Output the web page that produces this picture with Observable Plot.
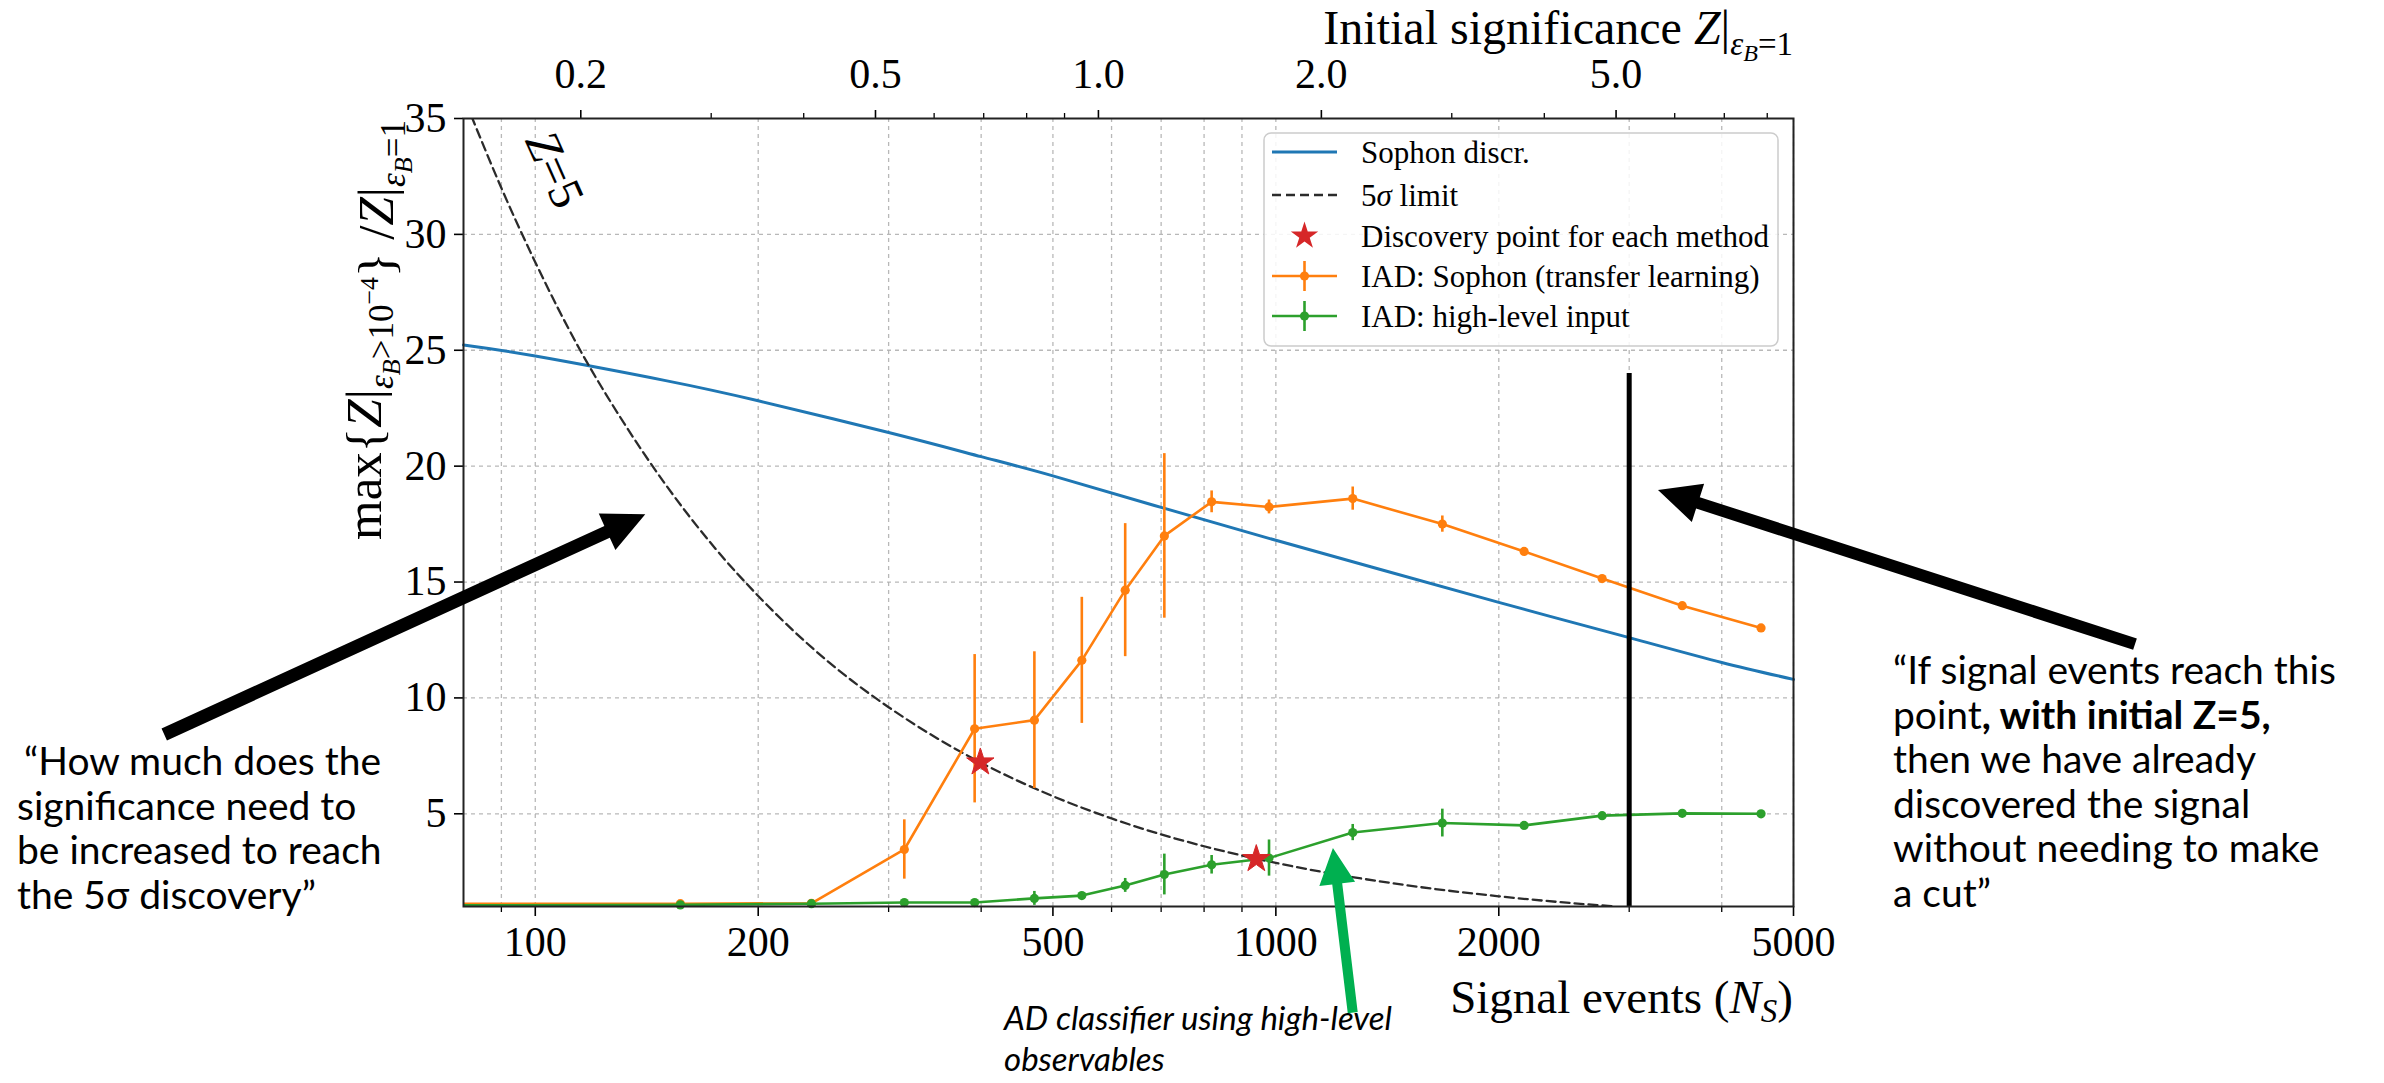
<!DOCTYPE html>
<html>
<head>
<meta charset="utf-8">
<script src="https://cdn.jsdelivr.net/npm/d3@7"></script>
<script src="https://cdn.jsdelivr.net/npm/@observablehq/plot@0.6"></script>
<style>
  html, body { margin: 0; padding: 0; background: #fff; }
  #chart { position: relative; width: 2384px; height: 1083px; overflow: hidden; }
</style>
</head>
<body>
<div id="chart"></div>
<script>
// ---------------- data ----------------
// Sophon discriminant curve
const sophonN = [80, 100, 150, 200, 300, 400, 500, 700, 1000, 1400, 2000, 3000, 4000, 5000];
const sophonZ = [25.23, 24.75, 23.69, 22.82, 21.45, 20.41, 19.58, 18.22, 16.8, 15.5, 14.12, 12.6, 11.53, 10.8];

// 5 sigma limit (dashed)
const limitN = [82, 90, 100, 115, 130, 150, 175, 200, 250, 300, 350, 400, 500, 600, 700, 800, 1000, 1200, 1500, 2000, 2500, 2880];
const limitZ = [35.1, 32.0, 28.8, 25.0, 22.15, 19.2, 16.45, 14.4, 11.5, 9.6, 8.23, 7.2, 5.76, 4.8, 4.11, 3.6, 2.88, 2.4, 1.92, 1.44, 1.15, 1.0];

// IAD runs (shared signal-event grid)
const iadN = [79, 157, 236, 315, 392, 472, 547, 626, 707, 819, 979, 1270, 1678, 2164, 2758, 3538, 4520];
const sophonTLZ   = [1.12, 1.12, 1.14, 3.46, 8.67, 9.04, 11.62, 14.65, 16.99, 18.46, 18.24, 18.6, 17.5, 16.32, 15.15, 13.98, 13.02];
const sophonTLErr = [0, 0, 0, 1.28, 3.2, 2.95, 2.72, 2.87, 3.55, 0.47, 0.3, 0.5, 0.35, 0.15, 0.1, 0.1, 0.1];
const highLevelZ   = [1.05, 1.07, 1.12, 1.17, 1.17, 1.35, 1.47, 1.91, 2.38, 2.80, 3.09, 4.19, 4.60, 4.50, 4.92, 5.02, 5.0];
const highLevelErr = [0, 0.03, 0.05, 0.05, 0.05, 0.3, 0.1, 0.3, 0.88, 0.4, 0.78, 0.35, 0.6, 0.1, 0.1, 0.15, 0.05];

// discovery points (stars)
const discoveryN = [399, 941];
const discoveryZ = [7.22, 3.05];

// vertical "Z = 5 without cut" marker
const cutN = [3000];
const cutTop = 24.0;

// ticks
const xMajorTicks = [100, 200, 500, 1000, 2000, 5000];
const xMinorTicks = [90, 300, 400, 600, 700, 800, 900, 3000, 4000];
const yTicks = [5, 10, 15, 20, 25, 30, 35];
const yGrid = [5, 10, 15, 20, 25, 30];
const zMajorTicks = [0.2, 0.5, 1.0, 2.0, 5.0];
const zMinorTicks = [0.3, 0.4, 0.6, 0.7, 0.8, 0.9, 3, 4, 6, 7, 8];
const eventsPerUnitZ = 576; // N_S at initial Z = 1 (top axis)

// annotation arrows, in data coordinates (N_S, ratio)
const arrowLeft  = {from: [31.6, 8.4],   to: [141, 17.9]};
const arrowRight = {from: [14480, 12.3], to: [3286, 18.95]};
const arrowGreen = {from: [1272, -3.6],  to: [1196, 3.5]};
const zLabelAt = [105, 32.7];

// ---------------- build tables ----------------
const sophonRows = sophonN.map((n, i) => ({n, z: sophonZ[i]}));
const limitRows = limitN.map((n, i) => ({n, z: limitZ[i]}));
const tlRows = iadN.map((n, i) => ({n, z: sophonTLZ[i], e: sophonTLErr[i]}));
const hlRows = iadN.map((n, i) => ({n, z: highLevelZ[i], e: highLevelErr[i]}));
const starRows = discoveryN.map((n, i) => ({n, z: discoveryZ[i]}));

const BLUE = "#1f77b4", ORANGE = "#ff7f0e", GREEN = "#2ca02c", RED = "#d62728";
const SERIF = "'Liberation Serif', 'DejaVu Serif', serif";
const gridStyle = {stroke: "#b0b0b0", strokeOpacity: 0.9, strokeWidth: 1.3, strokeDasharray: "4,4"};

const chart = Plot.plot({
  width: 2384,
  height: 1083,
  marginLeft: 463,
  marginRight: 591,
  marginTop: 118,
  marginBottom: 177,
  style: {fontFamily: SERIF, fontSize: "42px", color: "#000", background: "#fff"},
  x: {type: "log", domain: [80, 5000]},
  y: {domain: [1, 35]},
  marks: [
    Plot.gridX({ticks: xMajorTicks.concat(xMinorTicks), ...gridStyle}),
    Plot.gridY({ticks: yGrid, ...gridStyle}),
    Plot.axisX({ticks: xMajorTicks, anchor: "bottom", tickSize: 10, tickPadding: 10, tickFormat: d => String(d), fontSize: 42, label: null, strokeWidth: 1.6}),
    Plot.axisX({ticks: xMinorTicks, anchor: "bottom", tickSize: 6, tickFormat: () => "", label: null, strokeWidth: 1.3}),
    Plot.axisX({ticks: zMajorTicks.map(z => z * eventsPerUnitZ), anchor: "top", tickSize: 9, tickPadding: 22, tickFormat: d => (d / eventsPerUnitZ).toFixed(1), fontSize: 42, label: null, strokeWidth: 1.6}),
    Plot.axisX({ticks: zMinorTicks.map(z => z * eventsPerUnitZ), anchor: "top", tickSize: 6, tickFormat: () => "", label: null, strokeWidth: 1.3}),
    Plot.axisY({ticks: yTicks, anchor: "left", tickSize: 9, tickPadding: 8, fontSize: 42, label: null, strokeWidth: 1.6}),
    Plot.line(sophonRows, {x: "n", y: "z", stroke: BLUE, strokeWidth: 3, curve: "natural"}),
    Plot.line(limitRows, {x: "n", y: "z", stroke: "#2b2b2b", strokeWidth: 2.3, strokeDasharray: "9,5", curve: "monotone-x", clip: true}),
    Plot.ruleX(tlRows.filter(d => d.e > 0), {x: "n", y1: d => d.z - d.e, y2: d => d.z + d.e, stroke: ORANGE, strokeWidth: 2.6}),
    Plot.line(tlRows, {x: "n", y: "z", stroke: ORANGE, strokeWidth: 2.6, clip: true}),
    Plot.dot(tlRows.slice(1), {x: "n", y: "z", r: 4.6, fill: ORANGE}),
    Plot.ruleX(hlRows.filter(d => d.e > 0), {x: "n", y1: d => d.z - d.e, y2: d => d.z + d.e, stroke: GREEN, strokeWidth: 2.6}),
    Plot.line(hlRows, {x: "n", y: "z", stroke: GREEN, strokeWidth: 2.6, clip: true}),
    Plot.dot(hlRows.slice(1), {x: "n", y: "z", r: 4.6, fill: GREEN}),
    Plot.ruleX(cutN, {y1: 1, y2: cutTop, stroke: "#000", strokeWidth: 5}),
    Plot.dot(starRows, {x: "n", y: "z", symbol: "star", r: 8.6, fill: RED, stroke: RED, strokeWidth: 1}),
    Plot.frame({stroke: "#222", strokeWidth: 2})
  ]
});

document.getElementById("chart").appendChild(chart);

// ---------------- overlays (titles, legend, annotations) ----------------
const sx = chart.scale("x"), sy = chart.scale("y");
const px = v => sx.apply(v), py = v => sy.apply(v);
const svg = d3.select(chart);

function richText(g, segs, attrs) {
  const t = g.append("text").attr("text-anchor", "start");
  Object.entries(attrs).forEach(([k, v]) => t.attr(k, v));
  segs.forEach(s => {
    const ts = t.append("tspan").text(s.t);
    if (s.dy) ts.attr("dy", s.dy);
    if (s.size) ts.attr("font-size", s.size);
    if (s.italic) ts.attr("font-style", "italic");
    if (s.bold) ts.attr("font-weight", "bold");
  });
  return t;
}

const frameRight = px(5000), frameTop = py(35);

// top axis title
richText(svg, [
  {t: "Initial significance "}, {t: "Z", italic: true}, {t: "|"},
  {t: "ε", italic: true, size: 33, dy: 11}, {t: "B", italic: true, size: 24, dy: 6},
  {t: "=1", size: 33, dy: -6}
], {x: frameRight, y: 44, "text-anchor": "end", "font-family": SERIF, "font-size": 48, fill: "#000"});

// bottom axis title
richText(svg, [
  {t: "Signal events ("}, {t: "N", italic: true}, {t: "S", italic: true, size: 33, dy: 9}, {t: ")", dy: -9}
], {x: frameRight, y: 1013, "text-anchor": "end", "font-family": SERIF, "font-size": 47, fill: "#000"});

// y axis title
richText(svg, [
  {t: "max{"}, {t: "Z", italic: true}, {t: "|"},
  {t: "ε", italic: true, size: 35, dy: 12}, {t: "B", italic: true, size: 26, dy: 7},
  {t: ">10", size: 35, dy: -7}, {t: "−4", size: 26, dy: -15},
  {t: "}", dy: 15}, {t: " /"}, {t: "Z", italic: true}, {t: "|"},
  {t: "ε", italic: true, size: 35, dy: 12}, {t: "B", italic: true, size: 26, dy: 7},
  {t: "=1", size: 35, dy: -7}
], {transform: `translate(381,${frameTop + 2}) rotate(-90)`, "text-anchor": "end", "font-family": SERIF, "font-size": 51, fill: "#000"});

// Z=5 label along the dashed curve
richText(svg, [{t: "Z", italic: true}, {t: "=5"}], {
  transform: `translate(${px(zLabelAt[0])},${py(zLabelAt[1])}) rotate(66)`, "text-anchor": "middle",
  "dominant-baseline": "middle", "font-family": SERIF, "font-size": 48, fill: "#000"
});

// legend
const lg = svg.append("g");
lg.append("rect").attr("x", 1264).attr("y", 133).attr("width", 514).attr("height", 213)
  .attr("rx", 7).attr("fill", "#fff").attr("fill-opacity", 0.85).attr("stroke", "#cccccc").attr("stroke-width", 1.5);
const lx0 = 1272, lx1 = 1337, lxm = (lx0 + lx1) / 2, ltx = 1361;
const rows = [152, 195, 236, 276, 316];
lg.append("line").attr("x1", lx0).attr("x2", lx1).attr("y1", rows[0]).attr("y2", rows[0]).attr("stroke", BLUE).attr("stroke-width", 3);
lg.append("line").attr("x1", lx0).attr("x2", lx1).attr("y1", rows[1]).attr("y2", rows[1]).attr("stroke", "#2b2b2b").attr("stroke-width", 2.3).attr("stroke-dasharray", "9,5");
lg.append("path").attr("d", d3.symbol(d3.symbolStar, Math.PI * 8.6 * 8.6)()).attr("transform", `translate(${lxm},${rows[2]})`).attr("fill", RED);
[[rows[3], ORANGE], [rows[4], GREEN]].forEach(([yy, c]) => {
  lg.append("line").attr("x1", lx0).attr("x2", lx1).attr("y1", yy).attr("y2", yy).attr("stroke", c).attr("stroke-width", 2.6);
  lg.append("line").attr("x1", lxm).attr("x2", lxm).attr("y1", yy - 15).attr("y2", yy + 15).attr("stroke", c).attr("stroke-width", 2.6);
  lg.append("circle").attr("cx", lxm).attr("cy", yy).attr("r", 4.6).attr("fill", c);
});
const legendFont = {"font-family": SERIF, "font-size": 31, fill: "#000", "dominant-baseline": "central"};
richText(lg, [{t: "Sophon discr."}], {x: ltx, y: rows[0], ...legendFont});
richText(lg, [{t: "5"}, {t: "σ", italic: true}, {t: " limit"}], {x: ltx, y: rows[1], ...legendFont});
richText(lg, [{t: "Discovery point for each method"}], {x: ltx, y: rows[2], ...legendFont});
richText(lg, [{t: "IAD: Sophon (transfer learning)"}], {x: ltx, y: rows[3], ...legendFont});
richText(lg, [{t: "IAD: high-level input"}], {x: ltx, y: rows[4], ...legendFont});

// arrows (filled head)
function arrow(a, color, shaft, headLen, headW) {
  const x1 = px(a.from[0]), y1 = py(a.from[1]), x2 = px(a.to[0]), y2 = py(a.to[1]);
  const dx = x2 - x1, dy = y2 - y1, L = Math.hypot(dx, dy);
  const ux = dx / L, uy = dy / L, nx = -uy, ny = ux;
  const bx = x2 - ux * headLen, by = y2 - uy * headLen;
  const pts = [
    [x1 + nx * shaft / 2, y1 + ny * shaft / 2],
    [bx + nx * shaft / 2, by + ny * shaft / 2],
    [bx + nx * headW / 2, by + ny * headW / 2],
    [x2, y2],
    [bx - nx * headW / 2, by - ny * headW / 2],
    [bx - nx * shaft / 2, by - ny * shaft / 2],
    [x1 - nx * shaft / 2, y1 - ny * shaft / 2]
  ];
  svg.append("path").attr("d", "M" + pts.map(p => p.join(",")).join("L") + "Z").attr("fill", color);
}
arrow(arrowLeft, "#000", 13, 42, 40);
arrow(arrowRight, "#000", 12, 42, 40);
arrow(arrowGreen, "#00b050", 10, 36, 36);

// annotation texts
const ANN = "Lato, 'Open Sans', sans-serif";
const leftLines = ["\u201CHow much does the", "significance need to", "be increased to reach", "the 5σ discovery\u201D"];
leftLines.forEach((s, i) => {
  richText(svg, [{t: s}], {x: i === 0 ? 24 : 17, y: 775 + i * 44.5, "font-family": ANN, "font-size": 39, fill: "#000"});
});
const rightLines = [
  [{t: "\u201CIf signal events reach this"}],
  [{t: "point"}, {t: ", with initial Z=5,", bold: true}],
  [{t: "then we have already"}],
  [{t: "discovered the signal"}],
  [{t: "without needing to make"}],
  [{t: "a cut\u201D"}]
];
rightLines.forEach((segs, i) => {
  richText(svg, segs, {x: 1893, y: 684 + i * 44.5, "font-family": ANN, "font-size": 39, fill: "#000"});
});
["AD classifier using high-level", "observables"].forEach((s, i) => {
  richText(svg, [{t: s}], {x: 1004, y: 1030 + i * 41, "font-family": ANN, "font-style": "italic", "font-size": 33, fill: "#000"});
});
</script>
</body>
</html>
